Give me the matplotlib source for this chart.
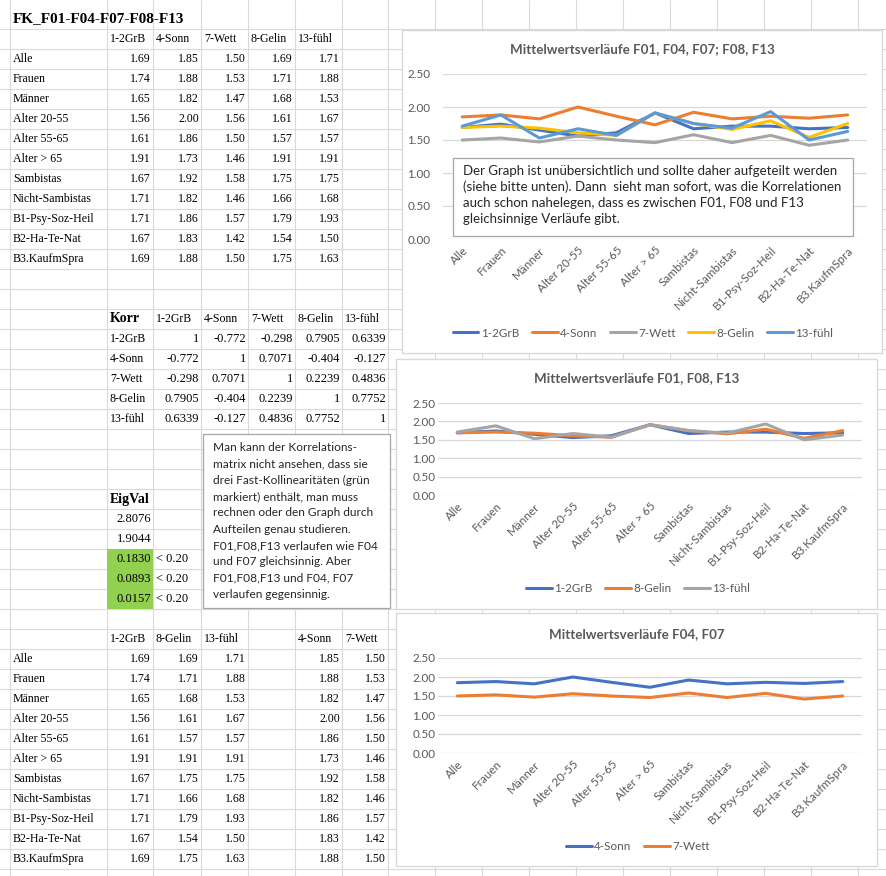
import numpy as np
import matplotlib
matplotlib.use('Agg')
import matplotlib.pyplot as plt
from matplotlib.patches import Rectangle

# data
cats = ['Alle', 'Frauen', 'Männer', 'Alter 20-55', 'Alter 55-65', 'Alter > 65',
        'Sambistas', 'Nicht-Sambistas', 'B1-Psy-Soz-Heil', 'B2-Ha-Te-Nat', 'B3.KaufmSpra']
grb = [1.69, 1.74, 1.65, 1.56, 1.61, 1.91, 1.67, 1.71, 1.71, 1.67, 1.69]
sonn = [1.85, 1.88, 1.82, 2.00, 1.86, 1.73, 1.92, 1.82, 1.86, 1.83, 1.88]
wett = [1.50, 1.53, 1.47, 1.56, 1.50, 1.46, 1.58, 1.46, 1.57, 1.42, 1.50]
gelin = [1.69, 1.71, 1.68, 1.61, 1.57, 1.91, 1.75, 1.66, 1.79, 1.54, 1.75]
fuehl = [1.71, 1.88, 1.53, 1.67, 1.57, 1.91, 1.75, 1.68, 1.93, 1.50, 1.63]
names = ['1-2GrB', '4-Sonn', '7-Wett', '8-Gelin', '13-fühl']

korr = [[1, -0.772, -0.298, 0.7905, 0.6339],
        [-0.772, 1, 0.7071, -0.404, -0.127],
        [-0.298, 0.7071, 1, 0.2239, 0.4836],
        [0.7905, -0.404, 0.2239, 1, 0.7752],
        [0.6339, -0.127, 0.4836, 0.7752, 1]]
eigval = [2.8076, 1.9044, 0.1830, 0.0893, 0.0157]
limit = 0.20

title_sheet = 'FK_F01-F04-F07-F08-F13'
note1 = ['Der Graph ist unübersichtlich und sollte daher aufgeteilt werden',
         '(siehe bitte unten). Dann  sieht man sofort, was die Korrelationen',
         'auch schon nahelegen, dass es zwischen F01, F08 und F13',
         'gleichsinnige Verläufe gibt.']
note2 = ['Man kann der Korrelations-',
         'matrix nicht ansehen, dass sie',
         'drei Fast-Kollinearitäten (grün',
         'markiert) enthält, man muss',
         'rechnen oder den Graph durch',
         'Aufteilen genau studieren.',
         'F01,F08,F13 verlaufen wie F04',
         'und F07 gleichsinnig. Aber',
         'F01,F08,F13 und F04, F07',
         'verlaufen gegensinnig.']

W, H = 886, 876
SERIF = 'Liberation Serif'
SANS = 'Lato'
GRAY = '#595959'
C_BLUE, C_OR, C_GR, C_GOLD, C_LB = '#4472C4', '#ED7D31', '#A5A5A5', '#FFC000', '#5B9BD5'
TICK = 8.4

def frect(x0, y0, x1, y1):
    return [x0 / W, 1 - y1 / H, (x1 - x0) / W, (y1 - y0) / H]

fig = plt.figure(figsize=(W / 100, H / 100), dpi=100)
bg = fig.add_axes([0, 0, 1, 1])
bg.set_xlim(0, W)
bg.set_ylim(H, 0)
bg.axis('off')

# sheet grid
cols = [10, 107, 153, 201, 248, 295, 342, 388, 435, 482, 529, 576, 623, 670, 717, 764, 811, 858]
rows = [29 + 20 * k for k in range(43)]
bg.vlines(cols, 0, 876, color='#d9d9d9', lw=0.8, zorder=0)
bg.hlines(rows, 0, 886, color='#d9d9d9', lw=0.8, zorder=0)

def row_y(i):
    return 19 + 20 * i

def cell(txt, c, r, ha='left', bold=False, size=8.6):
    if ha == 'left':
        x = cols[c] + 3
    else:
        x = cols[c + 1] - 2
    bg.text(x, row_y(r), txt, ha=ha, va='center', family=SERIF, fontsize=size,
            fontweight='bold' if bold else 'normal', color='black', zorder=2)

# table 1
cell(title_sheet, 0, 0, bold=True, size=11)
for j, n in enumerate(names):
    cell(n, j + 1, 1)
series = [grb, sonn, wett, gelin, fuehl]
for i, c in enumerate(cats):
    cell(c, 0, i + 2)
    for j, s in enumerate(series):
        cell(f'{s[i]:.2f}', j + 1, i + 2, ha='right')

# correlation table
def fmt(v):
    if v == 1:
        return '1'
    return f'{v:.3f}' if v < 0 else f'{v:.4f}'

cell('Korr', 1, 15, bold=True, size=10)
for j, n in enumerate(names):
    cell(n, j + 2, 15)
for i, n in enumerate(names):
    cell(n, 1, 16 + i)
    for j in range(5):
        cell(fmt(korr[i][j]), j + 2, 16 + i, ha='right', size=9)

# eigenvalues
cell('EigVal', 1, 24, bold=True, size=10)
for i, e in enumerate(eigval):
    r = 25 + i
    if e < limit:
        bg.add_patch(Rectangle((cols[1], rows[r - 1]), cols[2] - cols[1], 20,
                               facecolor='#92D050', edgecolor='none', zorder=1))
        cell(f'< {limit:.2f}', 2, r, size=9)
    cell(f'{e:.4f}', 1, r, ha='right', size=9)

# table 3
t3 = [(grb, 1, '1-2GrB'), (gelin, 2, '8-Gelin'), (fuehl, 3, '13-fühl'),
      (sonn, 5, '4-Sonn'), (wett, 6, '7-Wett')]
for s, c, n in t3:
    cell(n, c, 31)
    for i in range(len(cats)):
        cell(f'{s[i]:.2f}', c, 32 + i, ha='right')
for i, c in enumerate(cats):
    cell(c, 0, 32 + i)

# chart boxes
boxes = [(402, 30, 882, 353), (396, 359, 877, 609), (396, 613, 877, 866)]
for x0, y0, x1, y1 in boxes:
    bg.add_patch(Rectangle((x0, y0), x1 - x0, y1 - y0, facecolor='white',
                           edgecolor='#d9d9d9', lw=1, zorder=3))

def chart(area, title, tpos, lines, legpos, ypad):
    ax = fig.add_axes(frect(*area))
    ax.set_facecolor('none')
    x = np.arange(len(cats))
    for s, col, lab in lines:
        ax.plot(x, s, color=col, lw=2.2, label=lab, solid_capstyle='round',
                solid_joinstyle='round')
    ax.set_xlim(-0.5, len(cats) - 0.5)
    ax.set_ylim(0, 2.5)
    ax.set_yticks(np.arange(0, 2.51, 0.5))
    ax.set_yticklabels([f'{v:.2f}' for v in np.arange(0, 2.51, 0.5)])
    ax.grid(axis='y', color='#d9d9d9', lw=0.9)
    ax.set_axisbelow(True)
    for sp in ax.spines.values():
        sp.set_visible(False)
    ax.set_xticks(x)
    ax.set_xticklabels(cats, rotation=45, ha='right', rotation_mode='anchor')
    ax.tick_params(axis='x', length=0, pad=4, labelsize=TICK, labelcolor=GRAY)
    ax.tick_params(axis='y', length=0, pad=ypad, labelsize=TICK, labelcolor=GRAY)
    for lbl in ax.get_xticklabels() + ax.get_yticklabels():
        lbl.set_family(SANS)
    bg.text(tpos[0], tpos[1], title, ha='center', va='center', family=SANS,
            fontsize=9.6, fontweight='bold', color=GRAY, zorder=4)
    leg = ax.legend(loc='center', bbox_to_anchor=(legpos[0] / W, 1 - legpos[1] / H),
                    bbox_transform=fig.transFigure, ncol=len(lines), frameon=False,
                    handlelength=2.2, handletextpad=0.2, columnspacing=1.1,
                    prop={'family': SANS, 'size': TICK})
    for t in leg.get_texts():
        t.set_color(GRAY)
    return ax

chart((443, 74, 867, 239), 'Mittelwertsverläufe F01, F04, F07; F08, F13', (642, 49),
      [(grb, C_BLUE, '1-2GrB'), (sonn, C_OR, '4-Sonn'), (wett, C_GR, '7-Wett'),
       (gelin, C_GOLD, '8-Gelin'), (fuehl, C_LB, '13-fühl')], (643, 333), 9)
chart((438, 403, 862, 495), 'Mittelwertsverläufe F01, F08, F13', (637, 378),
      [(grb, C_BLUE, '1-2GrB'), (gelin, C_OR, '8-Gelin'), (fuehl, C_GR, '13-fühl')],
      (638, 589), 2)
chart((438, 658, 862, 753), 'Mittelwertsverläufe F04, F07', (637, 634),
      [(sonn, C_BLUE, '4-Sonn'), (wett, C_OR, '7-Wett')], (638, 847), 2)

# text boxes on top
top = fig.add_axes([0, 0, 1, 1])
top.set_xlim(0, W)
top.set_ylim(H, 0)
top.axis('off')
top.add_patch(Rectangle((453, 158), 400, 78, facecolor='white', edgecolor='#a6a6a6', lw=0.9))
for k, line in enumerate(note1):
    top.text(463, 171 + 16.1 * k, line, ha='left', va='center', family=SANS,
             fontsize=9.5, color='#262626')
top.add_patch(Rectangle((203, 434), 187, 174, facecolor='white', edgecolor='#a6a6a6', lw=0.9))
for k, line in enumerate(note2):
    top.text(213, 447.7 + 16.3 * k, line, ha='left', va='center', family=SANS,
             fontsize=8.6, color='#262626')

plt.savefig('out.png', dpi=100)
